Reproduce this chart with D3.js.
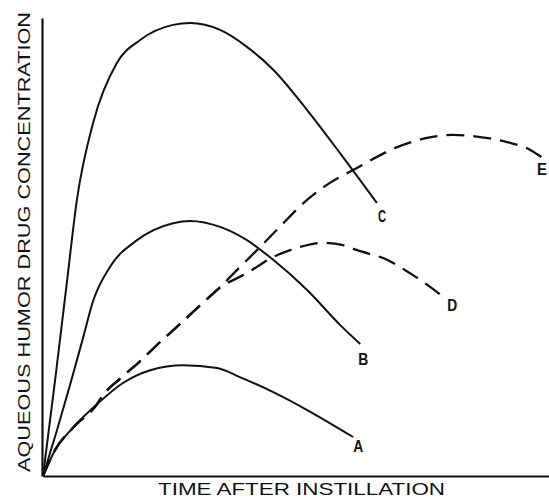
<!DOCTYPE html>
<html>
<head>
<meta charset="utf-8">
<script src="https://cdn.jsdelivr.net/npm/d3@7"></script>
<style>
  html, body { margin: 0; padding: 0; background: #fff; }
  svg { display: block; }
  text { font-family: "Liberation Sans", Arial, Helvetica, sans-serif; fill: #111; }
</style>
</head>
<body>
<svg id="chart" width="549" height="500"></svg>
<script>
// Relative time (0-100) vs relative aqueous humor concentration (0-100), as [time, concentration]
const curveA = [[0,0],[2.4,5.7],[5.9,10.5],[10.7,15.7],[15.8,20.3],[21.2,23.1],[27.7,24.2],[34.4,23.6],[38.9,21.6],[45.5,18.3],[52.2,14.4],[61.3,8.5]];
const curveB = [[0,0],[2.6,9.4],[5.3,19.7],[7.9,30.1],[9.9,38.2],[13.2,45.6],[18.6,51.5],[25.7,55.2],[29.1,55.7],[35.0,54.4],[40.3,51.5],[45.5,47.2],[52.2,40.6],[58.7,33.0],[62.7,28.8]];
const curveC = [[0,0],[2.4,21.0],[4.7,42.1],[6.7,60.3],[9.9,77.1],[14.6,90.2],[19.2,95.2],[25.7,98.5],[29.1,98.9],[35.0,97.4],[40.3,93.7],[45.5,88.7],[52.2,79.9],[58.7,70.5],[66.0,59.6]];
// D and E share their rising part, which leaves curve A near the start
const risingDE = [[0,0],[2.4,5.7],[5.9,10.5],[10.7,15.7],[11.9,17.7],[15.2,21.2],[19.2,25.1],[23.1,29.2],[27.1,33.2],[31.0,37.2],[34.6,40.8]];
const tailD = [[40.3,44.3],[45.5,47.8],[50.8,50.0],[55.3,50.9],[59.3,50.4],[62.1,49.3],[68.0,47.2],[72.5,44.3],[76.5,41.3],[79.1,39.1]];
const tailE = [[38.9,45.6],[42.9,50.0],[46.8,54.4],[52.2,60.3],[56.7,64.0],[61.3,66.8],[70.0,71.8],[75.9,73.8],[81.0,74.5],[86.4,74.0],[91.7,72.9],[96.3,71.2],[98.8,69.4]];
const curveD = risingDE.concat(tailD);
const curveE = risingDE.concat(tailE);

const seriesNames = ["A", "B", "C", "D", "E"];
const seriesData = [curveA, curveB, curveC, curveD, curveE];
const seriesDashed = [false, false, false, true, true];

const xTitle = "TIME AFTER INSTILLATION";
const yTitle = "AQUEOUS HUMOR DRUG CONCENTRATION";

const svg = d3.select("#chart");
const x = d3.scaleLinear().domain([0, 100]).range([43, 549]);
const y = d3.scaleLinear().domain([0, 100]).range([476, 18]);

// Bare axes, no ticks
svg.append("g").attr("transform", "translate(0,476)")
  .call(d3.axisBottom(x).ticks(0).tickSizeOuter(0))
  .call(g => g.select(".domain").attr("stroke", "#111").attr("stroke-width", 2.2));
svg.append("g").attr("transform", "translate(42,0)")
  .call(d3.axisLeft(y).ticks(0).tickSizeOuter(0))
  .call(g => g.select(".domain").attr("stroke", "#111").attr("stroke-width", 2.2));

const line = d3.line()
  .x(d => x(d[0]))
  .y(d => y(d[1]))
  .curve(d3.curveMonotoneX);

seriesData.forEach((data, i) => {
  svg.append("path")
    .datum(data)
    .attr("d", line)
    .attr("fill", "none")
    .attr("stroke", "#111")
    .attr("stroke-width", seriesDashed[i] ? 2.3 : 2)
    .attr("stroke-linecap", "butt")
    .attr("stroke-dasharray", seriesDashed[i] ? "18,9" : null);
});

// Curve end labels: [dx, dy] from each curve's last point to the label's left baseline
const labelOffsets = { A: [0, 15], B: [-2, 21], C: [1, 19], D: [4, 14], E: [-6, 17] };
seriesData.forEach((data, i) => {
  const last = data[data.length - 1];
  const name = seriesNames[i];
  svg.append("text")
    .attr("x", x(last[0]) + labelOffsets[name][0])
    .attr("y", y(last[1]) + labelOffsets[name][1])
    .attr("font-size", 17)
    .attr("font-weight", "bold")
    .attr("textLength", name === "C" ? 8 : 10)
    .attr("lengthAdjust", "spacingAndGlyphs")
    .text(name);
});

// Axis titles
svg.append("text")
  .attr("x", 301.5).attr("y", 495)
  .attr("text-anchor", "middle")
  .attr("font-size", 16.5)
  .attr("textLength", 287).attr("lengthAdjust", "spacingAndGlyphs")
  .text(xTitle);

svg.append("text")
  .attr("transform", "translate(30,242) rotate(-90)")
  .attr("text-anchor", "middle")
  .attr("font-size", 17)
  .attr("textLength", 460).attr("lengthAdjust", "spacingAndGlyphs")
  .text(yTitle);
</script>
</body>
</html>
